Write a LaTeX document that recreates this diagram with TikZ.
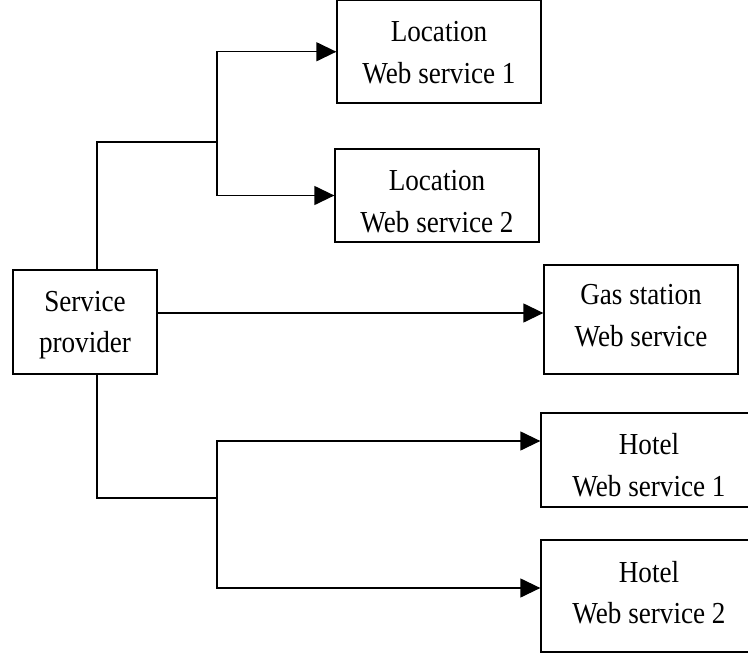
\documentclass[tikz,border=0pt]{standalone}
\usepackage{fontspec}
\setmainfont{Liberation Serif}
\newfontfamily\boxfont[FakeStretch=0.89]{Liberation Serif}
\usetikzlibrary{arrows.meta,calc}
\begin{document}
\begin{tikzpicture}[x=1pt,y=-1pt,
  line width=1.3pt,
  servicebox/.style={draw, line width=1.3pt, inner sep=0pt},
  boxtext/.style={align=center, inner sep=0pt, anchor=north,
    font=\boxfont\fontsize{30.5}{41.5}\selectfont},
  flow/.style={-{Triangle[length=20pt,width=19pt]}}]
\useasboundingbox (0,0) rectangle (748,656);
\clip (0,0) rectangle (748,656);

% boxes (corners given in pixels, y downwards)
\node[servicebox, minimum width=204pt, minimum height=102.5pt] (loc1) at (439,51.75) {};
\node[servicebox, minimum width=204pt, minimum height=93pt]    (loc2) at (437,195.5) {};
\node[servicebox, minimum width=194pt, minimum height=109pt]   (gas)  at (641,319.5) {};
\node[servicebox, minimum width=144pt, minimum height=104pt]   (sp)   at (85,322) {};
\node[servicebox, minimum width=216pt, minimum height=94pt]    (hot1) at (649,460) {};
\node[servicebox, minimum width=216pt, minimum height=112pt]   (hot2) at (649,596) {};

% box texts
\node[boxtext] (loc1t) at ($(loc1.north)+(0,21.3)$) {Location\\Web service 1};
\node[boxtext] (loc2t) at ($(loc2.north)+(0,21.8)$) {Location\\Web service 2};
\node[boxtext] (gast)  at ($(gas.north)+(0,19.8)$)  {Gas station\\Web service};
\node[boxtext] (spt)   at ($(sp.north)+(0,21.3)$)   {Service\\provider};
\node[boxtext] (hot1t) at ($(hot1.north)+(0,20.8)$) {Hotel\\Web service 1};
\node[boxtext] (hot2t) at ($(hot2.north)+(0,21.3)$) {Hotel\\Web service 2};

% junction points of the connectors
\coordinate (ju) at (97,142);
\coordinate (bu) at (217,142);
\coordinate (jd) at (97,498);
\coordinate (bd) at (217,498);
\coordinate (gasy) at (0,313);
\coordinate (h1y) at (0,441);
\coordinate (h2y) at (0,588);

% upper branch: location services
\draw (sp.north -| ju) -- (ju) -- (bu);
\draw[flow] (bu) |- (loc1.west);
\draw[flow] (bu) |- (loc2.west);

% gas station
\draw[flow] (sp.east |- gasy) -- (gas.west |- gasy);

% lower branch: hotel services
\draw (sp.south -| jd) -- (jd) -- (bd);
\draw[flow] (bd) |- (hot1.west |- h1y);
\draw[flow] (bd) |- (hot2.west |- h2y);
\end{tikzpicture}
\end{document}
